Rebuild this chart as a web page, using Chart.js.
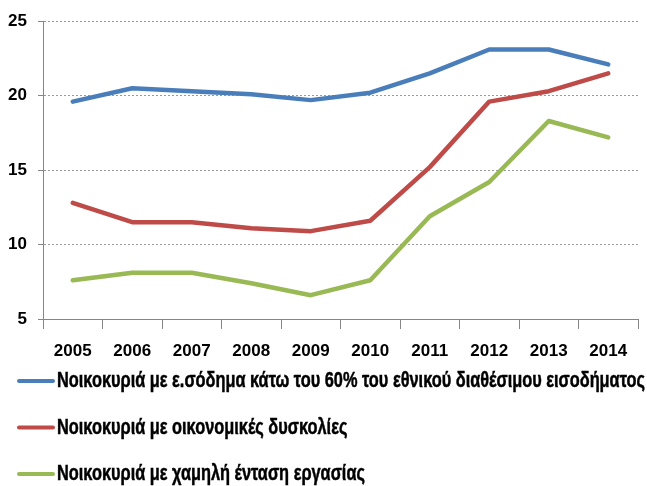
<!DOCTYPE html>
<html>
<head>
<meta charset="utf-8">
<script src="https://cdn.jsdelivr.net/npm/chart.js@4.4.0/dist/chart.umd.min.js"></script>
<style>
  html, body { margin: 0; padding: 0; background: #fff; }
  #wrap { width: 647px; height: 486px; }
</style>
</head>
<body>
<div id="wrap"><canvas id="chart"></canvas></div>
<script>
// δεδομένα (%)
const years = ['2005', '2006', '2007', '2008', '2009', '2010', '2011', '2012', '2013', '2014'];
const lowIncome = [19.6, 20.5, 20.3, 20.1, 19.7, 20.2, 21.5, 23.1, 23.1, 22.1];
const hardship = [12.8, 11.5, 11.5, 11.1, 10.9, 11.6, 15.2, 19.6, 20.3, 21.5];
const lowWork = [7.6, 8.1, 8.1, 7.4, 6.6, 7.6, 11.9, 14.2, 18.3, 17.2];
const yTicks = [5, 10, 15, 20, 25];

const seriesNames = [
  'Νοικοκυριά με ε.σόδημα κάτω του 60% του εθνικού διαθέσιμου εισοδήματος',
  'Νοικοκυριά με οικονομικές δυσκολίες',
  'Νοικοκυριά με χαμηλή ένταση εργασίας'
];

const FONT = '"Liberation Sans", Arial, sans-serif';

// λεζάντα κάτω από το γράφημα, μία σειρά ανά γραμμή, στενά γράμματα
const legendRows = {
  id: 'legendRows',
  afterDraw(chart) {
    const ctx = chart.ctx;
    const area = chart.chartArea;
    ctx.save();
    ctx.font = 'bold 22px ' + FONT;
    ctx.textBaseline = 'middle';
    ctx.fillStyle = '#000';
    // η πρώτη γραμμή φτάνει σχεδόν ως τη δεξιά άκρη
    const squeeze = 588 / ctx.measureText(seriesNames[0]).width;
    chart.data.datasets.forEach((ds, i) => {
      const y = area.bottom + 62 + i * 46.5;
      ctx.strokeStyle = ds.borderColor;
      ctx.lineWidth = 4;
      ctx.lineCap = 'round';
      ctx.beginPath();
      ctx.moveTo(19, y);
      ctx.lineTo(53, y);
      ctx.stroke();
      ctx.save();
      ctx.translate(57, y);
      ctx.scale(squeeze, 1);
      ctx.fillText(ds.label, 0, 0);
      ctx.strokeStyle = '#000';
      ctx.lineWidth = 0.5;
      ctx.strokeText(ds.label, 0, 0);
      ctx.restore();
    });
    ctx.restore();
  }
};

const ctx = document.getElementById('chart').getContext('2d');
new Chart(ctx, {
  type: 'line',
  data: {
    labels: years,
    datasets: [
      { label: seriesNames[0], data: lowIncome, borderColor: '#4A7EBB', backgroundColor: '#4A7EBB' },
      { label: seriesNames[1], data: hardship, borderColor: '#BE4B48', backgroundColor: '#BE4B48' },
      { label: seriesNames[2], data: lowWork, borderColor: '#98B954', backgroundColor: '#98B954' }
    ]
  },
  options: {
    responsive: true,
    maintainAspectRatio: false,
    animation: false,
    layout: { padding: { top: 18, right: 9, left: 0, bottom: 122 } },
    elements: {
      line: { borderWidth: 4.5, tension: 0, borderCapStyle: 'round', borderJoinStyle: 'round' },
      point: { radius: 0 }
    },
    plugins: {
      legend: { display: false },
      tooltip: { enabled: false }
    },
    scales: {
      x: {
        offset: true,
        grid: { offset: true, drawOnChartArea: false, tickLength: 10, color: '#868686', tickWidth: 1 },
        border: { color: '#868686', width: 1 },
        ticks: { color: '#000', padding: 12, maxRotation: 0, font: { family: FONT, size: 17, weight: 'bold' } },
        afterFit(scale) { scale.height = 45; }
      },
      y: {
        min: 5,
        max: 25,
        afterBuildTicks(scale) { scale.ticks = yTicks.map(v => ({ value: v })); },
        grid: {
          color: (c) => c.tick && c.tick.value === 5 ? 'rgba(0,0,0,0)' : '#9A9A9A',
          tickColor: '#868686',
          tickLength: 5,
          tickBorderDash: []
        },
        border: { color: '#868686', width: 1, dash: [2, 2] },
        ticks: { color: '#000', padding: 11, font: { family: FONT, size: 17, weight: 'bold' } },
        afterFit(scale) { scale.width = 43; }
      }
    }
  },
  plugins: [legendRows]
});
</script>
</body>
</html>
